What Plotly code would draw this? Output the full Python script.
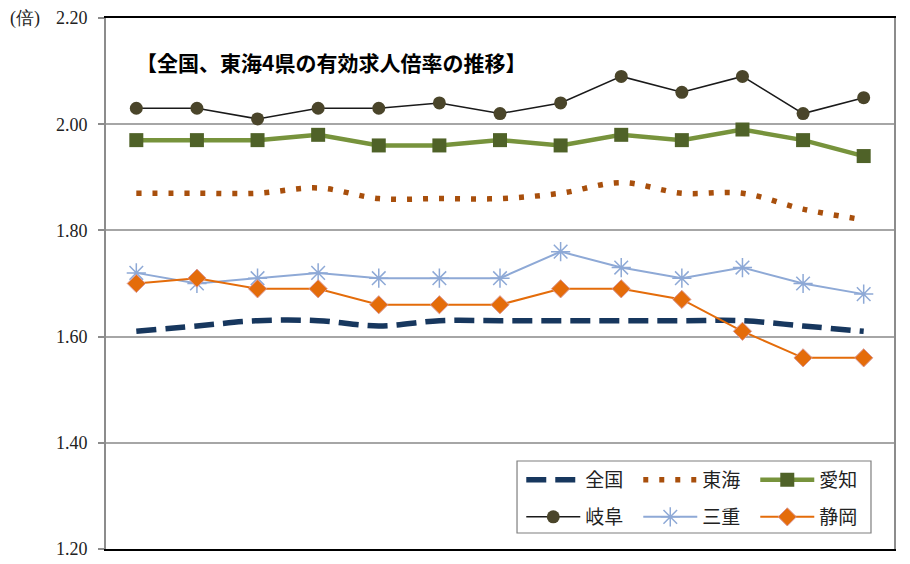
import plotly.graph_objects as go

periods = [str(i) for i in range(1, 14)]
zenkoku = [1.61, 1.62, 1.63, 1.63, 1.62, 1.63, 1.63, 1.63, 1.63, 1.63, 1.63, 1.62, 1.61]
tokai = [1.87, 1.87, 1.87, 1.88, 1.86, 1.86, 1.86, 1.87, 1.89, 1.87, 1.87, 1.84, 1.82]
aichi = [1.97, 1.97, 1.97, 1.98, 1.96, 1.96, 1.97, 1.96, 1.98, 1.97, 1.99, 1.97, 1.94]
gifu = [2.03, 2.03, 2.01, 2.03, 2.03, 2.04, 2.02, 2.04, 2.09, 2.06, 2.09, 2.02, 2.05]
mie = [1.72, 1.70, 1.71, 1.72, 1.71, 1.71, 1.71, 1.76, 1.73, 1.71, 1.73, 1.70, 1.68]
shizuoka = [1.70, 1.71, 1.69, 1.69, 1.66, 1.66, 1.66, 1.69, 1.69, 1.67, 1.61, 1.56, 1.56]
y_ticks = [1.20, 1.40, 1.60, 1.80, 2.00, 2.20]
title_text = "【全国、東海4県の有効求人倍率の推移】"
unit_text = "(倍)"

CJK = "Noto Sans CJK JP"
SERIF = "Liberation Serif, Times New Roman, serif"

fig = go.Figure()
fig.add_trace(go.Scatter(x=periods, y=zenkoku, name="全国", mode="lines", legend="legend",
                         line=dict(color="#17375E", width=5.5, dash="20px,9px", shape="spline")))
fig.add_trace(go.Scatter(x=periods, y=tokai, name="東海", mode="lines", legend="legend",
                         line=dict(color="#A84F0C", width=5.5, dash="5px,11px", shape="spline")))
fig.add_trace(go.Scatter(x=periods, y=aichi, name="愛知", mode="lines+markers", legend="legend",
                         line=dict(color="#77933C", width=4.5),
                         marker=dict(symbol="square", size=14, color="#4F6228")))
fig.add_trace(go.Scatter(x=periods, y=gifu, name="岐阜", mode="lines+markers", legend="legend2",
                         line=dict(color="#1A1A1A", width=1.5),
                         marker=dict(symbol="circle", size=13, color="#4A452A")))
fig.add_trace(go.Scatter(x=periods, y=mie, name="三重", mode="lines+markers", legend="legend2",
                         line=dict(color="#8EA9D6", width=2),
                         marker=dict(symbol="asterisk-open", size=16,
                                     line=dict(color="#8EA9D6", width=1.5))))
fig.add_trace(go.Scatter(x=periods, y=shizuoka, name="静岡", mode="lines+markers", legend="legend2",
                         line=dict(color="#E46C0A", width=2),
                         marker=dict(symbol="diamond", size=14, color="#E46C0A",
                                     line=dict(color="#D99694", width=1))))

legend_common = dict(
    orientation="h", xanchor="left", yanchor="top",
    borderwidth=0, bgcolor="rgba(0,0,0,0)",
    font=dict(family=CJK, size=19, color="#222222"),
    itemwidth=54,
    entrywidth=48, entrywidthmode="pixels", traceorder="normal",
)

fig.update_layout(
    width=902, height=556,
    margin=dict(l=98, r=16, t=10, b=15, autoexpand=False),
    paper_bgcolor="white", plot_bgcolor="white",
    showlegend=True,
    legend=dict(x=0.527, y=0.166, **legend_common),
    legend2=dict(x=0.527, y=0.096, **legend_common),
    xaxis=dict(
        type="category", range=[-0.5, 12.5], showticklabels=False, ticks="",
        showgrid=False, showline=True, linecolor="#000000", linewidth=2, mirror=True,
        zeroline=False,
    ),
    yaxis=dict(
        range=[1.2, 2.2], tickvals=y_ticks, tickformat=".2f",
        showgrid=True, gridcolor="#A6A6A6", gridwidth=1.5,
        showline=True, linecolor="#8C8C8C", linewidth=2, mirror=True,
        ticks="outside", ticklen=6, tickcolor="#8C8C8C", tickwidth=1.5,
        ticklabelstandoff=7,
        tickfont=dict(family=SERIF, size=18, color="#222222"),
        zeroline=False,
    ),
    shapes=[
        dict(type="rect", xref="paper", yref="paper",
             x0=0.5216, x1=0.9708, y0=0.0301, y1=0.1657,
             line=dict(color="#7F7F7F", width=1.2), fillcolor="white", layer="above"),
    ],
    annotations=[
        dict(text="<b>" + title_text + "</b>", xref="paper", yref="paper", x=0.035, y=0.917,
             xanchor="left", yanchor="middle", showarrow=False,
             font=dict(family=CJK, size=21, color="#000000")),
        dict(text=unit_text, xref="paper", yref="paper", x=-0.1244, y=1.0,
             xanchor="left", yanchor="middle", showarrow=False,
             font=dict(family=SERIF, size=18, color="#222222")),
    ],
)

fig.write_html("out.html")
